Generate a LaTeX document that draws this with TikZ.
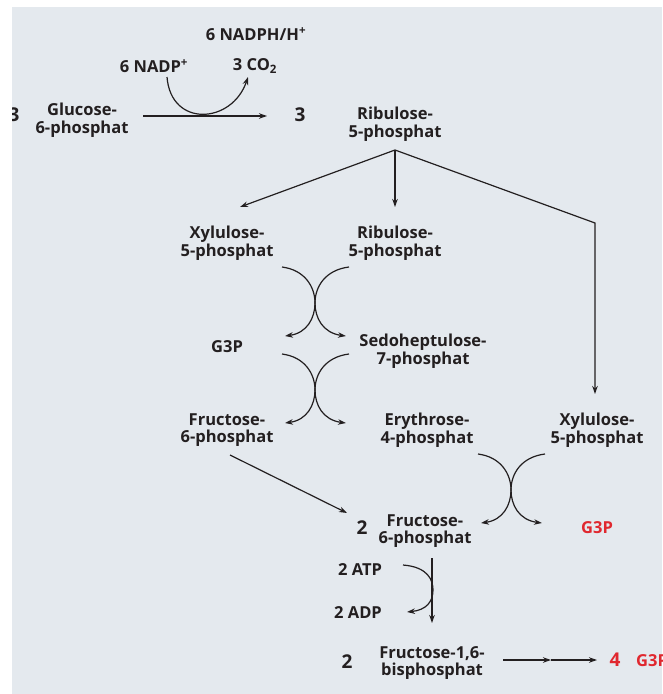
\documentclass[tikz,border=0pt]{standalone}
\usepackage{fontspec}
\setmainfont{Open Sans}
\usepackage{tikz}
\usetikzlibrary{arrows.meta}

\definecolor{bggray}{HTML}{E4E9EE}
\definecolor{ink}{HTML}{231F20}
\definecolor{inkred}{HTML}{E0282F}

\begin{document}
\begin{tikzpicture}[x=1pt,y=-1pt,
        >={Stealth[length=8pt,width=5.5pt]},
        mol/.style={align=center,inner sep=1pt,text=ink,
            font=\fontsize{16.5}{17.5}\selectfont\bfseries},
        num/.style={inner sep=1pt,text=ink,
            font=\fontsize{19}{20}\selectfont\bfseries},
        flow/.style={draw=ink,line width=1.2pt,->},
        swap/.pic={
            \draw[flow] (-33,-36) .. controls (-10,-33) and (0,-16) .. (0,0)
                .. controls (0,15) and (-8,30) .. (-30,33);
            \draw[flow] (34,-36) .. controls (10,-33) and (0,-16) .. (0,0)
                .. controls (0,15) and (8,30) .. (31,33);
        }]
    \useasboundingbox (0,0) rectangle (662,694);
    \fill[bggray] (12,7) rectangle (662,694);
    \begin{scope}
        \clip (12,7) rectangle (662,694);

        % oxidative part
        \node[num] (n3a) at (14,115) {3};
        \node[mol] (g6p) at (82,120) {Glucose-\\6-phosphat};
        \node[num] (n3b) at (300,115) {3};
        \node[mol] (ru5p) at (395,124) {Ribulose-\\5-phosphat};
        \node[mol] (nadp) at (154,66) {6 NADP\textsuperscript{+}};
        \node[mol] (nadph) at (256,34) {6 NADPH/H\textsuperscript{+}};
        \node[mol] (co2) at (255,66) {3 CO\textsubscript{2}};

        \coordinate (g6pout) at (143,116);
        \coordinate (ru5pin) at (267,116);
        \draw[flow] (g6pout) -- (ru5pin);
        \coordinate (nadpin) at (167,77);
        \coordinate (co2out) at (248,77);
        \draw[flow] (nadpin) .. controls (171,128) and (232,124) .. (co2out);

        % split of ribulose-5-phosphat
        \coordinate (split) at (395,150);
        \coordinate (xu5pin) at (240,207);
        \coordinate (ru5pin2) at (395,207);
        \coordinate (turn) at (595,223);
        \coordinate (xu5pin2) at (595,394);
        \draw[flow] (split) -- (xu5pin);
        \draw[flow] (split) -- (ru5pin2);
        \draw[flow] (split) -- (turn) -- (xu5pin2);

        % transketolase / transaldolase
        \node[mol] (xu5p) at (227,243) {Xylulose-\\5-phosphat};
        \node[mol] (ru5pb) at (395,243) {Ribulose-\\5-phosphat};
        \pic at (315,303) {swap};
        \node[mol] (g3pa) at (227,347) {G3P};
        \node[mol] (s7p) at (423,351) {Sedoheptulose-\\7-phosphat};
        \pic at (315,390) {swap};
        \node[mol] (f6pa) at (227,430) {Fructose-\\6-phosphat};
        \node[mol] (e4p) at (427,430) {Erythrose-\\4-phosphat};
        \node[mol] (xu5pb) at (597,430) {Xylulose-\\5-phosphat};
        \pic at (511,490) {swap};

        % glycolysis
        \coordinate (f6pout) at (230,455);
        \coordinate (f6pin) at (347,513);
        \draw[flow] (f6pout) -- (f6pin);
        \node[num] (n2a) at (362,528) {2};
        \node[mol] (f6pb) at (425,531) {Fructose-\\6-phosphat};
        \node[mol,text=inkred] (g3pb) at (597,528) {G3P};

        \coordinate (pfkin) at (432,558);
        \coordinate (pfkout) at (432,623);
        \draw[flow] (pfkin) -- (pfkout);
        \node[mol] (atp) at (360,570) {2 ATP};
        \node[mol] (adp) at (358,613) {2 ADP};
        \coordinate (atpout) at (403,565);
        \coordinate (adpin) at (407,612);
        \draw[flow] (atpout) .. controls (428,567) and (433,580) .. (433,590)
            .. controls (433,602) and (426,610) .. (adpin);

        \node[num] (n2b) at (347,662) {2};
        \node[mol] (f16bp) at (432,663) {Fructose-1,6-\\bisphosphat};
        \coordinate (aldout) at (503,660);
        \coordinate (aldmid) at (551,660);
        \coordinate (aldin) at (597,660);
        \draw[flow] (aldout) -- (aldmid);
        \draw[flow] (aldmid) -- (aldin);
        \node[num,text=inkred] (n4) at (615,660) {4};
        \node[mol,text=inkred] (g3pc) at (652,661) {G3P};
    \end{scope}
\end{tikzpicture}
\end{document}
